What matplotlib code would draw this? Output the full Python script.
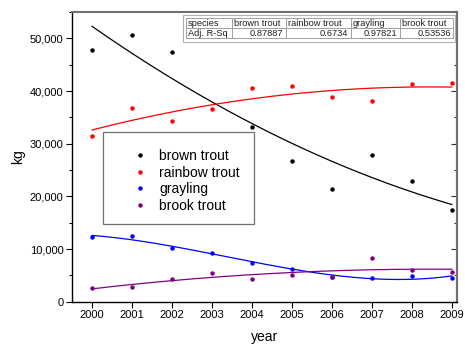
import numpy as np
import matplotlib
matplotlib.use("Agg")
import matplotlib.pyplot as plt
from matplotlib.patches import Rectangle
from matplotlib.lines import Line2D
from matplotlib.ticker import MultipleLocator, FuncFormatter, NullFormatter

plt.rcParams['font.family'] = ['Liberation Sans', 'DejaVu Sans']

years = [2000, 2001, 2002, 2003, 2004, 2005, 2006, 2007, 2008, 2009]
brown_trout = [47760, 50600, 47330, np.nan, 33200, 26760, 21390, 27840, 22960, 17400]
rainbow_trout = [31500, 36760, 34230, 36620, 40550, 40930, 38900, 38140, 41310, 41560]
grayling = [12220, 12470, 10250, 9240, 7340, 6200, 4750, 4500, 4820, 4550]
brook_trout = [2600, 2850, 4250, 5500, 4250, 5120, 4750, 8350, 5960, 5640]

species = ['brown trout', 'rainbow trout', 'grayling', 'brook trout']
colors = ['black', '#ff0000', '#0000ff', '#800080']
fit_degree = [2, 2, 3, 2]
adj_r_sq = ['0.87887', '0.6734', '0.97821', '0.53536']

series = [brown_trout, rainbow_trout, grayling, brook_trout]

W, H = 465, 344
fig = plt.figure(figsize=(W / 100, H / 100), dpi=100)
L, R, T, B = 72, 457, 12, 301.7
ax = fig.add_axes([L / W, 1 - B / H, (R - L) / W, (B - T) / H])

x = np.array(years, dtype=float)
xs = np.linspace(x.min(), x.max(), 200)
for vals, c, deg in zip(series, colors, fit_degree):
    y = np.array(vals, dtype=float)
    m = ~np.isnan(y)
    p = np.polyfit(x[m] - 2000, y[m], deg)
    ax.plot(xs, np.polyval(p, xs - 2000), color=c, lw=0.9, zorder=2)
    ax.plot(x, y, 'o', color=c, ms=3.2, mec='none', zorder=3)

ax.set_xlim(1999.5, 2009.13)
ax.set_ylim(0, 55000)
ax.set_xticks(years)
ax.yaxis.set_major_locator(MultipleLocator(10000))
ax.yaxis.set_minor_locator(MultipleLocator(5000))
ax.yaxis.set_major_formatter(FuncFormatter(lambda v, p: f"{int(v):,}"))
ax.tick_params(axis='both', which='major', labelsize=8, length=4.3, width=0.8, pad=1.8, direction='out')
ax.tick_params(axis='y', which='minor', length=2.4, width=0.8, direction='out')
ax.tick_params(axis='x', which='both', top=False)

# right-side inward ticks
sec = ax.secondary_yaxis('right')
sec.yaxis.set_major_locator(MultipleLocator(10000))
sec.yaxis.set_minor_locator(MultipleLocator(5000))
sec.yaxis.set_major_formatter(NullFormatter())
sec.tick_params(axis='y', which='major', direction='in', length=4.3, width=0.8, color='#303030')
sec.tick_params(axis='y', which='minor', direction='in', length=2.4, width=0.8, color='#303030')
sec.spines['right'].set_color('#707070')
sec.spines['right'].set_linewidth(1.5)

for s in ['top', 'right']:
    ax.spines[s].set_color('#707070')
    ax.spines[s].set_linewidth(1.5)
for s in ['left', 'bottom']:
    ax.spines[s].set_linewidth(1.0)

ax.set_xlabel('year', fontsize=10, labelpad=7)
ax.set_ylabel('kg', fontsize=10, labelpad=3)

# legend box
ax.add_patch(Rectangle((0.0813, 0.268), 0.3914, 0.3188, transform=ax.transAxes,
                       fill=True, facecolor='white', edgecolor='#707070', lw=0.9, zorder=4))
handles = [Line2D([], [], ls='none', marker='o', ms=3.2, mec='none', color=c) for c in colors]
ax.legend(handles, species, loc='upper left', bbox_to_anchor=(0.158, 0.528),
          frameon=False, fontsize=10, handlelength=1.0, handletextpad=0.9,
          labelspacing=0.2, borderpad=0, borderaxespad=0).set_zorder(5)

# table of fit statistics
col_w = [46, 54, 65, 49.3, 53.4]
tx0, ty0, ty1, ty2 = 185.5, 18.3, 28.3, 38.3
fig.add_artist(Rectangle((183 / W, 1 - 42 / H), (455 - 183) / W, (42 - 15) / H,
                         transform=fig.transFigure, facecolor='white', edgecolor='#b0b0b0', lw=0.8))
header = ['species'] + species
row = ['Adj. R-Sq'] + adj_r_sq
edges = np.concatenate([[tx0], tx0 + np.cumsum(col_w)])
for yy in [ty0, ty1, ty2]:
    fig.add_artist(Line2D([edges[0] / W, edges[-1] / W], [1 - yy / H, 1 - yy / H],
                          transform=fig.transFigure, color='#a0a0a0', lw=0.7))
for xx in edges:
    fig.add_artist(Line2D([xx / W, xx / W], [1 - ty0 / H, 1 - ty2 / H],
                          transform=fig.transFigure, color='#a0a0a0', lw=0.7))
for i in range(5):
    fig.text((edges[i] + 2.5) / W, 1 - (ty0 + ty1) / 2 / H, header[i], fontsize=6.7,
             ha='left', va='center', color='#202020')
    if i == 0:
        fig.text((edges[i] + 2.5) / W, 1 - (ty1 + ty2) / 2 / H, row[i], fontsize=6.7,
                 ha='left', va='center', color='#202020')
    else:
        fig.text((edges[i + 1] - 2.5) / W, 1 - (ty1 + ty2) / 2 / H, row[i], fontsize=6.7,
                 ha='right', va='center', color='#202020')

fig.savefig('out.png', dpi=100)
